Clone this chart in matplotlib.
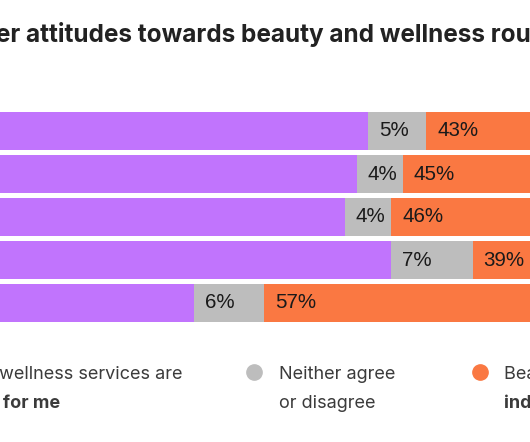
import matplotlib
matplotlib.use("Agg")
import matplotlib.pyplot as plt
from matplotlib.lines import Line2D

# ---- data ----
categories = ["Group 1", "Group 2", "Group 3", "Group 4", "Group 5"]
essential = [52, 51, 50, 54, 37]
neutral = [5, 4, 4, 7, 6]
indulgence = [43, 45, 46, 39, 57]
series_names = ["Beauty and wellness services are|a necessity for me",
                "Neither agree|or disagree",
                "Beauty and wellness services are an|indulgence"]
title = "Consumer attitudes towards beauty and wellness routines"

W, H, DPI = 530, 442, 100
C_PURPLE = "#C174FD"
C_GRAY = "#BDBDBD"
C_ORANGE = "#FA7842"
TXT = "#222222"
LEG_TXT = "#3b3b3b"
FONT = "Inter"

fig = plt.figure(figsize=(W / DPI, H / DPI), dpi=DPI)
fig.patch.set_facecolor("white")

def fx(px):
    return px / W

def fy(py):
    return 1 - py / H

# axes extends beyond the visible crop
ax = fig.add_axes([fx(-235), fy(324.5), 1160 / W, 215 / H])
ax.set_xlim(0, 100)
ax.set_ylim(len(categories) - 0.5, -0.5)
ax.axis("off")

ypos = list(range(len(categories)))
bh = 38.5 / 43
lefts = [0] * len(categories)
for k, (vals, col) in enumerate([(essential, C_PURPLE), (neutral, C_GRAY), (indulgence, C_ORANGE)]):
    ax.barh(ypos, vals, left=lefts, height=bh, color=col, edgecolor="none")
    if k > 0:  # labels of the first series lie outside the visible crop
        for y, v, l in zip(ypos, vals, lefts):
            ax.annotate(f"{v}%", (l, y), xytext=(11 * 72 / DPI, 0), textcoords="offset points",
                        ha="left", va="center", fontsize=14.8, color="#1a1a1a",
                        family="Liberation Sans")
    lefts = [a + b for a, b in zip(lefts, vals)]

renderer = fig.canvas.get_renderer()

def text_width(s, **kw):
    t = fig.text(0, 0, s, **kw)
    w = t.get_window_extent(renderer).width
    t.remove()
    return w

# title (cropped on the left)
tkw = dict(fontsize=17.5, fontweight="bold", color=TXT, family=FONT)
off = text_width("Consum", **tkw)
fig.text(fx(-4 - off), fy(42), title, ha="left", va="baseline", **tkw)

# legend
lkw = dict(fontsize=13, color=LEG_TXT, family=FONT)
# first item: line 1 ends at x=183
l1, l2 = series_names[0].split("|")
w1 = text_width(l1, **lkw)
x0 = 183 - w1
fig.text(fx(x0), fy(379), l1, ha="left", va="baseline", **lkw)
fig.text(fx(x0), fy(408), l2, ha="left", va="baseline", fontweight="bold", **lkw)
fig.add_artist(Line2D([fx(x0 - 26)], [fy(372)], marker="o", markersize=11,
                      color=C_PURPLE, linestyle="none", transform=fig.transFigure))

for (name, col, mx, tx, bold2) in [(series_names[1], C_GRAY, 254, 279, False),
                                   (series_names[2], C_ORANGE, 480, 504, True)]:
    a, b = name.split("|")
    fig.add_artist(Line2D([fx(mx)], [fy(372)], marker="o", markersize=11,
                          color=col, linestyle="none", transform=fig.transFigure))
    fig.text(fx(tx), fy(379), a, ha="left", va="baseline", **lkw)
    fig.text(fx(tx), fy(408), b, ha="left", va="baseline",
             fontweight="bold" if bold2 else "normal", **lkw)

fig.savefig("out.png", dpi=DPI, facecolor="white")
